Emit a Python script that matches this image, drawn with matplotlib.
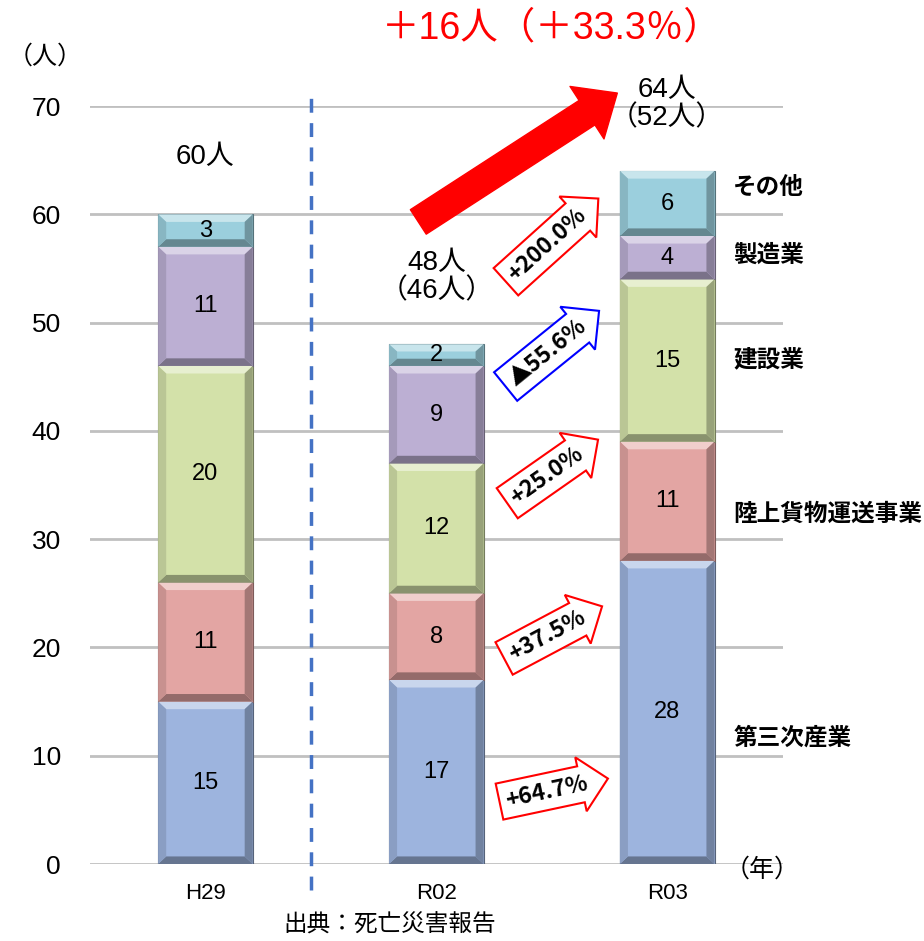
import matplotlib
matplotlib.use('Agg')

import matplotlib.pyplot as plt
from matplotlib.patches import Polygon
from matplotlib.colors import to_rgb
import numpy as np

plt.rcParams['font.family'] = ['Liberation Sans', 'Noto Sans CJK JP']
GOTHIC = ['Noto Sans CJK JP', 'DejaVu Sans']

years = ['H29', 'R02', 'R03']
categories = ['第三次産業', '陸上貨物運送事業', '建設業', '製造業', 'その他']
tertiary = [15, 17, 28]
freight = [11, 8, 11]
construction = [20, 12, 15]
manufacturing = [11, 9, 4]
others = [3, 2, 6]
bracket_totals = [None, 46, 52]

series = [tertiary, freight, construction, manufacturing, others]
colors = ['#9db4de', '#e3a5a3', '#d3e1a9', '#bcafd3', '#9bcfdd']
totals = np.sum(series, axis=0)


def shade(c, f):
    r = np.array(to_rgb(c))
    if f > 0:
        return tuple(r + (1 - r) * f)
    return tuple(r * (1 + f))


def bevel(ax, rect, color, bx=0.035, by=0.7):
    x0, y0 = rect.get_x(), rect.get_y()
    x1, y1 = x0 + rect.get_width(), y0 + rect.get_height()
    by = min(by, rect.get_height() / 3)
    faces = [
        ([(x0, y1), (x1, y1), (x1 - bx, y1 - by), (x0 + bx, y1 - by)], shade(color, 0.45)),
        ([(x0, y0), (x1, y0), (x1 - bx, y0 + by), (x0 + bx, y0 + by)], shade(color, -0.35)),
        ([(x0, y0), (x0, y1), (x0 + bx, y1 - by), (x0 + bx, y0 + by)], shade(color, -0.12)),
        ([(x1, y0), (x1, y1), (x1 - bx, y1 - by), (x1 - bx, y0 + by)], shade(color, -0.28)),
    ]
    for pts, fc in faces:
        ax.add_patch(Polygon(pts, closed=True, facecolor=fc, edgecolor='none', zorder=3))


fig = plt.figure(figsize=(9.24, 9.41), dpi=100)
ax = fig.add_axes([0.0974, 0.0818, 0.7496, 0.8055])

x = np.arange(len(years))
bottom = np.zeros(len(years))
for vals, col in zip(series, colors):
    bars = ax.bar(x, vals, width=0.41, bottom=bottom, color=col,
                  edgecolor=shade(col, -0.45), linewidth=0.8, zorder=2)
    for rect, v in zip(bars, vals):
        bevel(ax, rect, col)
        ax.text(rect.get_x() + rect.get_width() / 2, rect.get_y() + v / 2, str(v),
                ha='center', va='center', fontsize=17, zorder=5)
    bottom += vals

ax.set_xlim(-0.5, 2.5)
ax.set_ylim(0, 70)
ax.set_yticks(range(0, 71, 10))
ax.set_xticks(x)
ax.set_xticklabels(years, fontsize=16)
ax.tick_params(axis='y', labelsize=19, length=0, pad=21)
ax.tick_params(axis='x', length=0, pad=14)
ax.grid(axis='y', color='#c0c0c0', linewidth=2, zorder=0)
ax.set_axisbelow(True)
for s in ax.spines.values():
    s.set_visible(False)

# divider between H29 and later years
ax.plot([0.457, 0.457], [-2.4, 71.5], color='#4472c4', linestyle=(0, (4, 3)),
        linewidth=2.5, clip_on=False, zorder=1)

# totals above bars
ax.text(0, totals[0] + 5.3, f'{totals[0]}人', ha='center', va='center', fontsize=20)
for i in (1, 2):
    ax.text(i, totals[i] + 6.2, f'{totals[i]}人\n（{bracket_totals[i]}人）', ha='center',
            va='center', fontsize=20, linespacing=1.1, clip_on=False)

# change-rate block arrows between R02 and R03
arrow_pos = [(1.48, 6.7, 12), (1.48, 21.1, 28), (1.48, 35.9, 35), (1.48, 47.2, 39), (1.48, 57.2, 42)]
for vals, (ax_x, ax_y, rot) in zip(series, arrow_pos):
    rate = (vals[2] - vals[1]) / vals[1] * 100
    if rate >= 0:
        label, ec = f'+{rate:.1f}%', 'red'
    else:
        label, ec = f'▲{-rate:.1f}%', 'blue'
    ax.text(ax_x, ax_y, label, rotation=rot, rotation_mode='anchor', ha='center', va='center',
            fontsize=16.5, fontweight='bold', family=GOTHIC, zorder=6,
            bbox=dict(boxstyle='rarrow,pad=0.3', facecolor='white', edgecolor=ec, linewidth=1.5))

# big overall arrow
ax.annotate('', xy=(1.784, 71.2), xytext=(0.922, 59.3),
            arrowprops=dict(arrowstyle='simple,head_width=4.5,head_length=2.6,tail_width=2.1',
                            color='red', shrinkA=0, shrinkB=0, mutation_scale=10),
            annotation_clip=False)

diff = totals[2] - totals[1]
ax.text(1.50, 77.2, f'＋{diff}人（＋{diff / totals[1] * 100:.1f}％）',
        ha='center', va='center', fontsize=27, color='red')

# category labels beside R03
label_y = [11.7, 32.3, 46.6, 56.3, 62.5]
for name, ly in zip(categories, label_y):
    ax.text(2.286, ly, name, ha='left', va='center', fontsize=17, fontweight='bold',
            family=GOTHIC)

ax.text(-0.695, 74.6, '（人）', ha='center', va='center', fontsize=18, clip_on=False)
ax.text(2.41, -0.5, '（年）', ha='center', va='center', fontsize=18, clip_on=False)
ax.text(0.80, -5.6, '出典：死亡災害報告', ha='center', va='center', fontsize=17,
        family=GOTHIC, clip_on=False)

fig.savefig('out.png', dpi=100)
